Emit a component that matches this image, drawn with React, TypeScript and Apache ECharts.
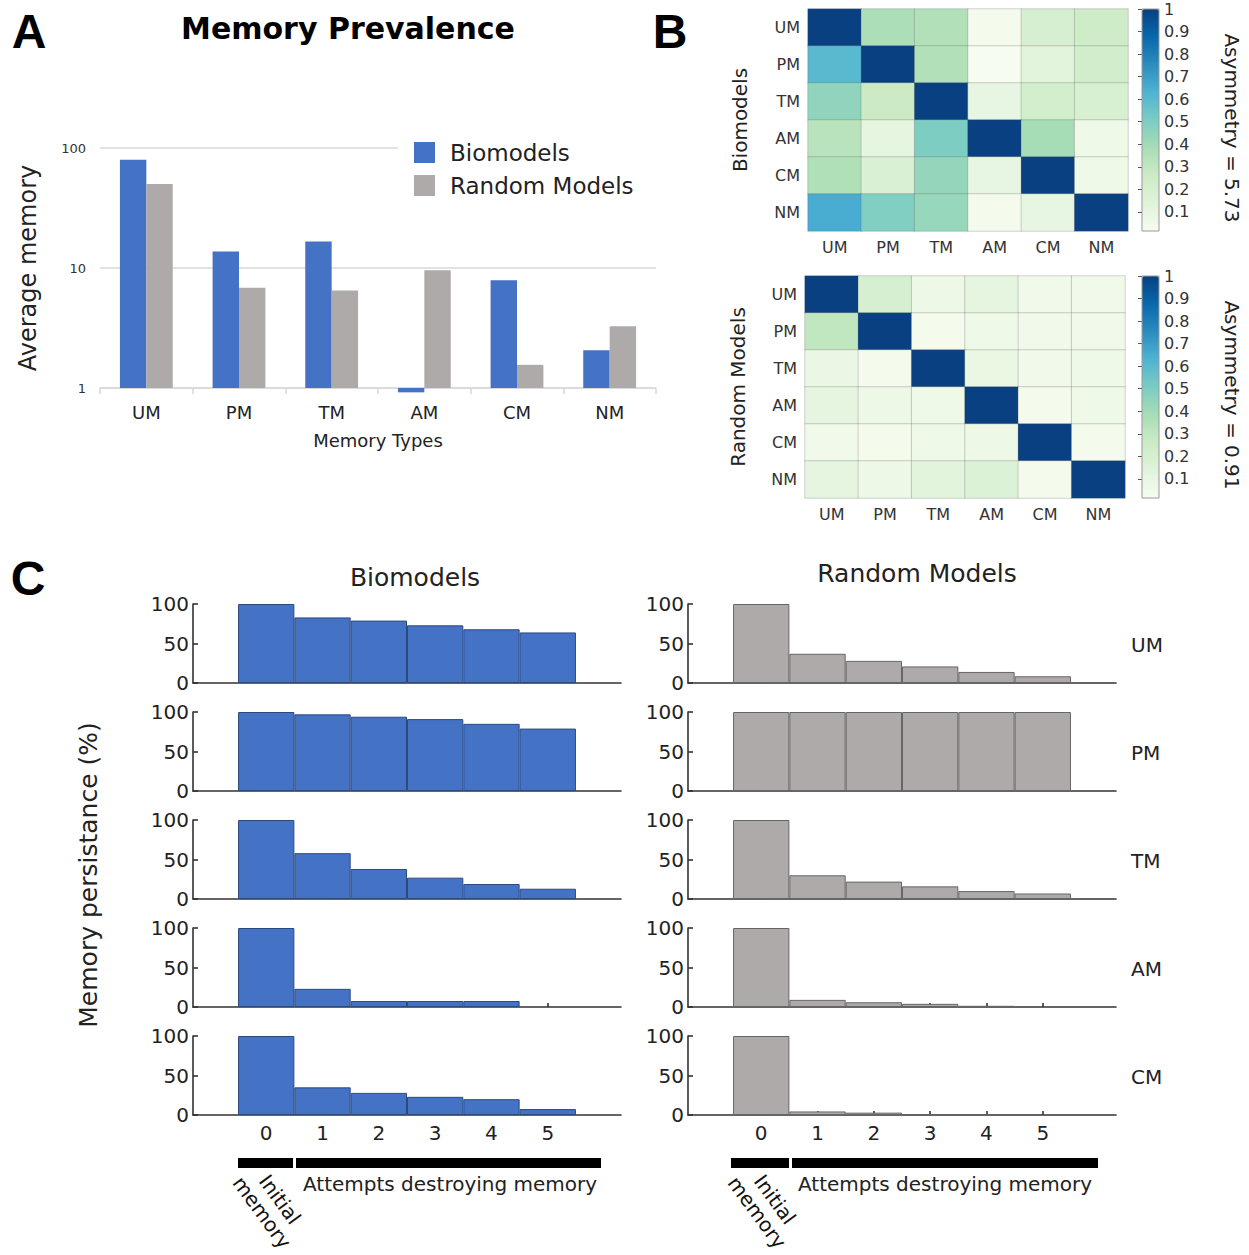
import React, { useEffect, useRef } from "react";
import * as echarts from "echarts";

// ---------------- DATA ----------------
const memoryTypes = ["UM", "PM", "TM", "AM", "CM", "NM"];

// Panel A: average memory (log scale)
const prevalenceBiomodels = [80, 13.7, 16.6, 0.92, 7.9, 2.06];
const prevalenceRandom = [50, 6.85, 6.5, 9.6, 1.56, 3.27];

// Panel B: asymmetry matrices (rows = y labels, cols = x labels)
const asymBioUM = [1, 0.37, 0.35, 0.03, 0.2, 0.24];
const asymBioPM = [0.6, 1, 0.35, 0.02, 0.13, 0.23];
const asymBioTM = [0.45, 0.26, 1, 0.1, 0.22, 0.19];
const asymBioAM = [0.33, 0.11, 0.5, 1, 0.39, 0.06];
const asymBioCM = [0.36, 0.18, 0.44, 0.1, 1, 0.06];
const asymBioNM = [0.65, 0.49, 0.43, 0.03, 0.1, 1];

const asymRandUM = [1, 0.2, 0.07, 0.11, 0.05, 0.05];
const asymRandPM = [0.3, 1, 0.03, 0.06, 0.05, 0.05];
const asymRandTM = [0.08, 0.03, 1, 0.09, 0.05, 0.06];
const asymRandAM = [0.11, 0.07, 0.06, 1, 0.03, 0.06];
const asymRandCM = [0.05, 0.03, 0.06, 0.07, 1, 0.03];
const asymRandNM = [0.11, 0.07, 0.13, 0.16, 0.03, 1];

const asymmetryBio = [asymBioUM, asymBioPM, asymBioTM, asymBioAM, asymBioCM, asymBioNM];
const asymmetryRand = [asymRandUM, asymRandPM, asymRandTM, asymRandAM, asymRandCM, asymRandNM];
const asymmetryScoreBio = "Asymmetry = 5.73";
const asymmetryScoreRand = "Asymmetry = 0.91";

const colorbarTicks = [0.1, 0.2, 0.3, 0.4, 0.5, 0.6, 0.7, 0.8, 0.9, 1];
const colorMin = 0.015;
const colorMax = 1;

// Panel C: memory persistence (%)
const attempts = [0, 1, 2, 3, 4, 5];
const persistenceTypes = ["UM", "PM", "TM", "AM", "CM"];

const persistBioUM = [100, 83, 79, 73, 68, 64];
const persistBioPM = [100, 97, 94, 91, 85, 79];
const persistBioTM = [100, 58, 38, 27, 19, 13];
const persistBioAM = [100, 23, 7.6, 7.6, 7.6, 0];
const persistBioCM = [100, 35, 28, 23, 20, 7.5];

const persistRandUM = [100, 37, 28, 21, 14, 8.5];
const persistRandPM = [100, 100, 100, 100, 100, 100];
const persistRandTM = [100, 30, 22, 16, 10, 7];
const persistRandAM = [100, 9, 6, 4, 1.5, 0];
const persistRandCM = [100, 4.5, 3, 0.5, 0.2, 0];

const persistBio = [persistBioUM, persistBioPM, persistBioTM, persistBioAM, persistBioCM];
const persistRand = [persistRandUM, persistRandPM, persistRandTM, persistRandAM, persistRandCM];

// ---------------- STYLE ----------------
const FONT = "'DejaVu Sans', Verdana, sans-serif";
const BOLD = "'Liberation Sans', Arial, sans-serif";
const BLUE = "#4472c4";
const GRAY = "#aeaaaa";
const GNBU = ["#f7fcf0", "#e0f3db", "#ccebc5", "#a8ddb5", "#7bccc4", "#4eb3d3", "#2b8cbe", "#0868ac", "#084081"];

function txt(text: string, x: number, y: number, size: number, o: any = {}) {
  const align = o.align || "center";
  const valign = o.valign || "middle";
  return {
    type: "text",
    x,
    y,
    rotation: o.rotation || 0,
    z: 100,
    style: {
      text,
      fill: o.color || "#222",
      fontSize: size,
      fontFamily: o.family || FONT,
      fontWeight: o.weight || "normal",
      lineHeight: o.lineHeight,
      align,
      verticalAlign: valign,
      textAlign: align,
      textVerticalAlign: valign,
    },
  };
}

function buildOption() {
  const grid: any[] = [];
  const xAxis: any[] = [];
  const yAxis: any[] = [];
  const series: any[] = [];
  const visualMap: any[] = [];
  const elements: any[] = [];

  // ===== Panel A =====
  grid.push({ left: 100, top: 148, width: 556, height: 240, outerBoundsMode: "none" });
  xAxis.push({
    type: "category",
    gridIndex: 0,
    data: memoryTypes,
    boundaryGap: true,
    axisLine: { onZero: false, lineStyle: { color: "#d9d9d9", width: 1.5 } },
    axisTick: { show: true, length: 6, lineStyle: { color: "#d9d9d9", width: 1.5 } },
    axisLabel: { fontSize: 18, color: "#222", margin: 15, fontFamily: FONT },
    splitLine: { show: false },
    name: "Memory Types",
    nameLocation: "middle",
    nameGap: 43,
    nameTextStyle: { fontSize: 18, color: "#222", fontFamily: FONT },
  });
  yAxis.push({
    type: "log",
    logBase: 10,
    gridIndex: 0,
    min: 1,
    max: 100,
    axisLine: { show: false },
    axisTick: { show: false },
    axisLabel: { fontSize: 13, color: "#333", margin: 14, fontFamily: FONT },
    splitLine: { show: true, lineStyle: { color: "#d9d9d9", width: 1.5 } },
    name: "Average memory",
    nameLocation: "middle",
    nameGap: 60,
    nameTextStyle: { fontSize: 24, color: "#222", fontFamily: FONT },
  });
  series.push({
    name: "Biomodels",
    type: "bar",
    xAxisIndex: 0,
    yAxisIndex: 0,
    data: prevalenceBiomodels,
    barGap: "0%",
    barCategoryGap: "43%",
    clip: false,
    itemStyle: { color: BLUE },
  });
  series.push({
    name: "Random Models",
    type: "bar",
    xAxisIndex: 0,
    yAxisIndex: 0,
    data: prevalenceRandom,
    barGap: "0%",
    barCategoryGap: "43%",
    clip: false,
    itemStyle: { color: GRAY },
  });

  // ===== Panel B =====
  const heatmaps = [
    { left: 808, top: 9, name: "Biomodels", nameGap: 58, data: asymmetryBio, score: asymmetryScoreBio },
    { left: 805, top: 276, name: "Random Models", nameGap: 57, data: asymmetryRand, score: asymmetryScoreRand },
  ];
  const hmW = 320;
  const hmH = 222;
  const cbLeft = 1142;
  const cbW = 17;
  heatmaps.forEach((h) => {
    const gi = grid.length;
    grid.push({ left: h.left, top: h.top, width: hmW, height: hmH, outerBoundsMode: "none" });
    xAxis.push({
      type: "category",
      gridIndex: gi,
      data: memoryTypes,
      axisLine: { show: false },
      axisTick: { show: false },
      axisLabel: { fontSize: 16, color: "#333", margin: 8, fontFamily: FONT },
      splitLine: { show: false },
    });
    yAxis.push({
      type: "category",
      gridIndex: gi,
      data: memoryTypes,
      inverse: true,
      axisLine: { show: false },
      axisTick: { show: false },
      axisLabel: { fontSize: 16, color: "#333", margin: 8, fontFamily: FONT },
      splitLine: { show: false },
      name: h.name,
      nameLocation: "middle",
      nameGap: h.nameGap,
      nameTextStyle: { fontSize: 20, color: "#222", fontFamily: FONT },
    });
    const si = series.length;
    series.push({
      name: "heat-" + h.name,
      type: "heatmap",
      xAxisIndex: gi,
      yAxisIndex: gi,
      data: h.data.flatMap((row, r) => row.map((v, c) => [c, r, v])),
      itemStyle: { borderColor: "rgba(90,90,90,0.25)", borderWidth: 1 },
      emphasis: { disabled: true },
    });
    visualMap.push({
      type: "continuous",
      seriesIndex: si,
      dimension: 2,
      min: colorMin,
      max: colorMax,
      calculable: false,
      hoverLink: false,
      show: true,
      left: cbLeft,
      top: h.top,
      padding: 0,
      itemWidth: cbW,
      itemHeight: hmH,
      inRange: { color: GNBU },
    });
    // colorbar axis (ticks + labels)
    const cg = grid.length;
    grid.push({ left: cbLeft, top: h.top, width: cbW, height: hmH, outerBoundsMode: "none" });
    xAxis.push({ type: "value", gridIndex: cg, show: false, min: 0, max: 1 });
    yAxis.push({
      type: "value",
      gridIndex: cg,
      position: "right",
      min: colorMin,
      max: colorMax,
      axisLine: { show: false },
      axisTick: { show: true, inside: true, length: 4, customValues: colorbarTicks, lineStyle: { color: "#555", width: 1 } },
      axisLabel: { show: true, customValues: colorbarTicks, fontSize: 16, color: "#333", margin: 5, fontFamily: FONT },
      splitLine: { show: false },
    });
    elements.push({
      type: "rect",
      z: 100,
      shape: { x: cbLeft, y: h.top, width: cbW, height: hmH },
      style: { fill: "none", stroke: "#999", lineWidth: 1 },
    });
    elements.push(txt(h.score, 1232, h.top + hmH / 2 + 8, 20, { rotation: -Math.PI / 2 }));
  });

  // ===== Panel C =====
  const colLeft = [193, 688];
  const rowTop = [604, 712, 820, 928, 1036];
  const gw = 428;
  const gh = 79;
  const xMin = -1.3;
  const xMax = 6.3;
  const barW = gw / (xMax - xMin);
  [persistBio, persistRand].forEach((set, col) => {
    set.forEach((vals, row) => {
      const gi = grid.length;
      grid.push({ left: colLeft[col], top: rowTop[row], width: gw, height: gh, outerBoundsMode: "none" });
      xAxis.push({
        type: "value",
        gridIndex: gi,
        min: xMin,
        max: xMax,
        axisLine: { show: true, onZero: false, lineStyle: { color: "#333", width: 1.6 } },
        axisTick: { show: true, inside: true, length: 4, customValues: attempts, lineStyle: { color: "#333", width: 1.6 } },
        axisLabel: {
          show: row === set.length - 1,
          customValues: attempts,
          fontSize: 20,
          color: "#222",
          margin: 8,
          fontFamily: FONT,
        },
        splitLine: { show: false },
      });
      yAxis.push({
        type: "value",
        gridIndex: gi,
        min: 0,
        max: 100,
        interval: 50,
        axisLine: { show: true, onZero: false, lineStyle: { color: "#333", width: 1.6 } },
        axisTick: { show: true, inside: true, length: 5, lineStyle: { color: "#333", width: 1.6 } },
        axisLabel: { fontSize: 20, color: "#222", margin: 4, fontFamily: FONT },
        splitLine: { show: false },
      });
      const fill = col === 0 ? BLUE : GRAY;
      const edge = col === 0 ? "#2c4a80" : "#666";
      series.push({
        name: (col === 0 ? "bio-" : "rand-") + persistenceTypes[row],
        type: "bar",
        xAxisIndex: gi,
        yAxisIndex: gi,
        data: attempts.map((a, j) => ({
          value: [a, vals[j]],
          itemStyle: { color: fill, borderColor: edge, borderWidth: vals[j] > 0 ? 1 : 0 },
        })),
        barWidth: barW,
        itemStyle: { color: fill, borderColor: edge, borderWidth: 1 },
      });
      if (col === 1) {
        elements.push(txt(persistenceTypes[row], 1131, rowTop[row] + 41, 20, { align: "left" }));
      }
    });
  });

  // bottom annotations
  const brackets = [
    { a: [238, 55], b: [296, 305], textX: 303, initX: 271 },
    { a: [731, 58], b: [792, 306], textX: 798, initX: 766 },
  ];
  brackets.forEach((br) => {
    elements.push({ type: "rect", z: 100, shape: { x: br.a[0], y: 1158, width: br.a[1], height: 10 }, style: { fill: "#000" } });
    elements.push({ type: "rect", z: 100, shape: { x: br.b[0], y: 1158, width: br.b[1], height: 10 }, style: { fill: "#000" } });
    elements.push(txt("Attempts destroying memory", br.textX, 1184, 20, { align: "left" }));
    elements.push(
      txt("Initial\nmemory", br.initX, 1206, 20, { rotation: -0.94, lineHeight: 22, color: "#111" })
    );
  });

  // panel letters & titles
  elements.push(txt("A", 29, 31, 48, { family: BOLD, weight: "bold", color: "#000" }));
  elements.push(txt("B", 670, 31, 48, { family: BOLD, weight: "bold", color: "#000" }));
  elements.push(txt("C", 28, 578, 48, { family: BOLD, weight: "bold", color: "#000" }));
  elements.push(txt("Memory Prevalence", 348, 28, 30, { weight: "bold", color: "#000" }));
  elements.push(txt("Biomodels", 415, 577, 25));
  elements.push(txt("Random Models", 917, 573, 25));
  elements.push(txt("Memory persistance (%)", 88, 875, 25, { rotation: Math.PI / 2 }));

  return {
    animation: false,
    backgroundColor: "#fff",
    textStyle: { fontFamily: FONT },
    legend: {
      data: ["Biomodels", "Random Models"],
      orient: "vertical",
      left: 398,
      top: 135,
      padding: [6, 30, 6, 16],
      itemWidth: 21,
      itemHeight: 21,
      itemGap: 10,
      backgroundColor: "#fff",
      icon: "rect",
      selectedMode: false,
      textStyle: { fontSize: 23, color: "#222", fontFamily: FONT, padding: [0, 0, 0, 10] },
    },
    grid,
    xAxis,
    yAxis,
    visualMap,
    series,
    graphic: { elements },
  };
}

export default function App() {
  const ref = useRef<HTMLDivElement>(null);
  useEffect(() => {
    const chart = echarts.init(ref.current!, null, { renderer: "svg" });
    chart.setOption(buildOption() as any);
    return () => chart.dispose();
  }, []);
  return (
    <div
      ref={ref}
      style={{ position: "absolute", left: 0, top: 0, width: 1249, height: 1255 }}
    />
  );
}
